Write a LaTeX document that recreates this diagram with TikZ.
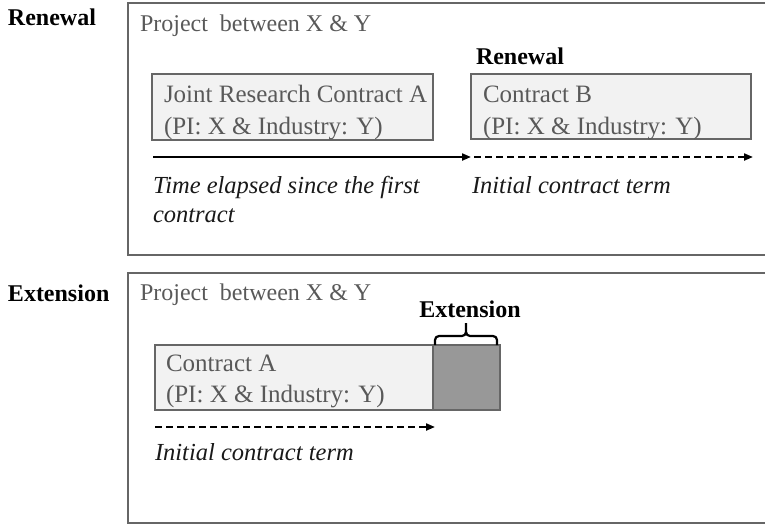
\documentclass[tikz,border=0pt]{standalone}
\usepackage{fontspec}
\setmainfont{Liberation Serif}
\usetikzlibrary{arrows.meta,calc}
\definecolor{boxline}{HTML}{666666}
\definecolor{boxfill}{HTML}{F2F2F2}
\definecolor{graytext}{HTML}{595959}
\definecolor{extfill}{HTML}{989898}
\begin{document}
\begin{tikzpicture}[x=1pt,y=-1pt,
  every node/.style={inner sep=0pt,outer sep=0pt},
  frame/.style={draw=boxline,line width=2pt},
  contract/.style={draw=boxline,fill=boxfill,line width=2.2pt},
  boxtxt/.style={text=graytext,font=\fontsize{25}{32}\selectfont,anchor=base west},
  projtxt/.style={text=graytext,font=\fontsize{24}{30}\selectfont,anchor=base west},
  lbl/.style={font=\fontsize{24}{28}\selectfont\bfseries,anchor=base west},
  itxt/.style={font=\fontsize{24.5}{28}\selectfont\itshape,text=black!90,anchor=base west},
  timearrow/.style={line width=2pt,-{Triangle[length=9pt,width=7pt]}},
  dasharrow/.style={line width=2pt,dash pattern=on 7pt off 4pt,-{Triangle[length=9pt,width=7pt]}}
]
\useasboundingbox (0,0) rectangle (765,525);
\begin{scope}
\clip (0,0) rectangle (765,525);
% top panel
\node[lbl] (renlbl) at (8,25) {Renewal};
\draw[frame] (128,3) rectangle (780,255);
\node[projtxt] (proj1) at (140,31) {Project\ \ between X \& Y};
\draw[contract] (152,74) rectangle (433,140);
\node[boxtxt] (ca) at (164,102) {Joint Research Contract A};
\node[boxtxt] (ca') at (164,134) {(PI: X \& Industry: Y)};
\draw[contract] (471,74) rectangle (751,139);
\node[boxtxt] (cb) at (483,102) {Contract B};
\node[boxtxt] (cb') at (483,134) {(PI: X \& Industry: Y)};
\node[lbl] (renlbl2) at (476,64) {Renewal};
\coordinate (t0) at (153,157);
\coordinate (t1) at (471,157);
\coordinate (t2) at (753,157);
\draw[timearrow] (t0) -- (t1);
\draw[dasharrow] ($(t1)+(3,0)$) -- (t2);
\node[itxt] (te) at (153,193) {Time elapsed since the first};
\node[itxt] (te2) at (153,222) {contract};
\node[itxt] (ict1) at (472,193) {Initial contract term};
% bottom panel
\node[lbl] (extlbl) at (8,301) {Extension};
\draw[frame] (128,273) rectangle (780,523);
\node[projtxt] (proj2) at (140,300) {Project\ \ between X \& Y};
\draw[contract] (155,345) rectangle (433,410);
\node[boxtxt] (ca2) at (166,371) {Contract A};
\node[boxtxt] (ca2') at (166,402) {(PI: X \& Industry: Y)};
\draw[contract,fill=extfill] (433,345) rectangle (500,410);
\draw[line width=2.2pt,line join=round] (435,345) -- (435,340) to[out=90,in=180] (439,336) -- (462,336) to[out=0,in=270] (466,332) -- (466,323)
  (466,332) to[out=270,in=180] (470,336) -- (493,336) to[out=0,in=90] (497,340) -- (497,345);
\node[lbl,anchor=base] (extlbl2) at (470,317) {Extension};
\coordinate (d0) at (155,427);
\coordinate (d1) at (435,427);
\draw[dasharrow] (d0) -- (d1);
\node[itxt] (ict2) at (155,460) {Initial contract term};
\end{scope}
\end{tikzpicture}
\end{document}
